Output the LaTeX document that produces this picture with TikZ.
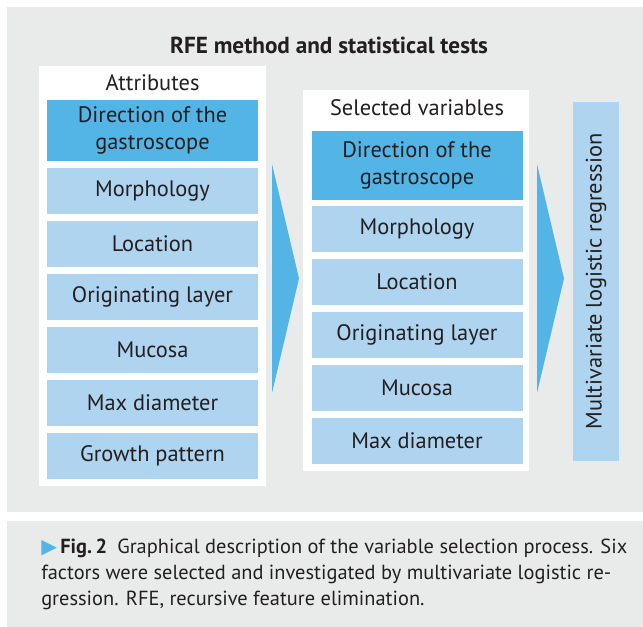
\documentclass[tikz,border=0pt]{standalone}
\usepackage{fontspec}
\setmainfont{PT Sans}
\newfontfamily\symfont{DejaVu Sans}
\usetikzlibrary{positioning}
\definecolor{panelgray}{RGB}{233,235,234}
\definecolor{darkblue}{RGB}{83,180,230}
\definecolor{lightblue}{RGB}{174,212,239}
\definecolor{inkgray}{RGB}{35,31,32}
\tikzset{
  boxfont/.style={font=\fontsize{16.8}{20.2}\selectfont},
  lightbox/.style={fill=lightblue, inner sep=0.75pt, minimum width=158.25pt, minimum height=34.5pt, align=center, text=inkgray, boxfont},
  darkbox/.style={lightbox, fill=darkblue},
}
\begin{document}
\begin{tikzpicture}[x=0.75pt,y=0.75pt,yscale=-1,xscale=1]
\useasboundingbox (0,0) rectangle (643,627);

%Shape: Rectangle [panels]
\fill [panelgray] (7,7) rectangle (643,512);
\fill [panelgray] (7,521) rectangle (643,627);
%Shape: Rectangle [white columns]
\fill [white] (39,66) rectangle (266,486);
\fill [white] (303,90) rectangle (529,471);

% Text Node
\node (title) at (329,45) [inner sep=0.75pt, text=inkgray, font=\fontsize{17.4}{20}\selectfont\bfseries] {RFE method and statistical tests};

% Text Node
\node (attrHead) at (152.5,83) [inner sep=0.75pt, text=inkgray, boxfont] {Attributes};
\node (attrDir) at (152.5,130.5) [darkbox, minimum height=45.75pt] {Direction of the\\gastroscope};
\node (attrMorph) at (152.5,191) [lightbox] {Morphology};
\node (attrLoc) at (152.5,244) [lightbox] {Location};
\node (attrLayer) at (152.5,297) [lightbox] {Originating layer};
\node (attrMuc) at (152.5,350) [lightbox] {Mucosa};
\node (attrDiam) at (152.5,403) [lightbox] {Max diameter};
\node (attrGrowth) at (152.5,456) [lightbox] {Growth pattern};

% Text Node
\node (selHead) at (417,108) [inner sep=0.75pt, text=inkgray, boxfont] {Selected variables};
\node (selDir) at (417,165.5) [darkbox, minimum height=51.75pt] {Direction of the\\gastroscope};
\node (selMorph) at (417,229) [lightbox] {Morphology};
\node (selLoc) at (417,282) [lightbox] {Location};
\node (selLayer) at (417,335) [lightbox] {Originating layer};
\node (selMuc) at (417,388) [lightbox] {Mucosa};
\node (selDiam) at (417,441) [lightbox] {Max diameter};

% Text Node
\node (regr) at (596,281.5) [lightbox, rotate=90, minimum width=269.25pt, minimum height=34.5pt] {Multivariate logistic regression};

%Shape: Triangle [arrows]
\fill [darkblue] (272,164) -- (299,278.5) -- (272,393) -- cycle;
\fill [darkblue] (537,164) -- (564,278.5) -- (537,393) -- cycle;

% Text Node
\node (caption) at (40,574) [anchor=west, inner sep=0.75pt, text=inkgray, align=left, font=\fontsize{15.3}{19.5}\selectfont] {{\symfont\textcolor{darkblue}{▶}}\,\textbf{Fig.\,2}\enspace Graphical description of the variable selection process. Six\\factors were selected and investigated by multivariate logistic re-\\gression. RFE, recursive feature elimination.};

\end{tikzpicture}
\end{document}
